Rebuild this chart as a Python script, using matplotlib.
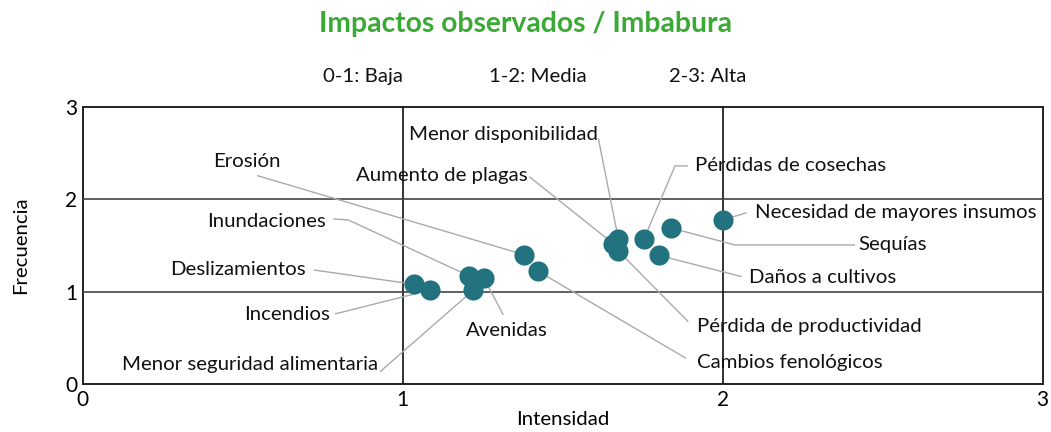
import matplotlib
matplotlib.use("Agg")
import matplotlib.pyplot as plt

plt.rcParams['font.family'] = ['Lato', 'DejaVu Sans']

labels = ["Deslizamientos", "Incendios", "Inundaciones", "Avenidas",
          "Menor seguridad alimentaria", "Erosión", "Cambios fenológicos",
          "Aumento de plagas", "Menor disponibilidad", "Pérdida de productividad",
          "Pérdidas de cosechas", "Sequías", "Daños a cultivos",
          "Necesidad de mayores insumos"]
intensidad = [1.036, 1.085, 1.208, 1.254, 1.221, 1.38, 1.422,
              1.658, 1.674, 1.674, 1.754, 1.838, 1.80, 2.0]
frecuencia = [1.08, 1.018, 1.17, 1.145, 1.018, 1.40, 1.224,
              1.52, 1.568, 1.44, 1.571, 1.69, 1.394, 1.777]

# label placement (data coords) and alignment
label_pos = {
    "Deslizamientos": (0.698, 1.235, 'right'),
    "Incendios": (0.773, 0.748, 'right'),
    "Inundaciones": (0.760, 1.755, 'right'),
    "Avenidas": (1.326, 0.585, 'center'),
    "Menor seguridad alimentaria": (0.923, 0.217, 'right'),
    "Erosión": (0.513, 2.405, 'center'),
    "Cambios fenológicos": (1.92, 0.238, 'left'),
    "Aumento de plagas": (1.391, 2.253, 'right'),
    "Menor disponibilidad": (1.611, 2.698, 'right'),
    "Pérdida de productividad": (1.92, 0.628, 'left'),
    "Pérdidas de cosechas": (1.913, 2.362, 'left'),
    "Sequías": (2.423, 1.506, 'left'),
    "Daños a cultivos": (2.082, 1.159, 'left'),
    "Necesidad de mayores insumos": (2.101, 1.863, 'left'),
}
# leader-line path from label side (start, optional elbow) toward the point
leader = {
    "Deslizamientos": [(0.7228, 1.235)],
    "Incendios": [(0.7884, 0.759)],
    "Inundaciones": [(0.7831, 1.788), (0.8300, 1.777)],
    "Avenidas": [(1.3144, 0.748)],
    "Menor seguridad alimentaria": [(0.9291, 0.133)],
    "Erosión": [(0.5447, 2.258)],
    "Cambios fenológicos": [(1.8853, 0.279)],
    "Aumento de plagas": [(1.3956, 2.246)],
    "Menor disponibilidad": [(1.6113, 2.662)],
    "Pérdida de productividad": [(1.8925, 0.675)],
    "Pérdidas de cosechas": [(1.8916, 2.362), (1.8509, 2.362)],
    "Sequías": [(2.4134, 1.506), (2.0384, 1.506)],
    "Daños a cultivos": [(2.0594, 1.163)],
    "Necesidad de mayores insumos": [(2.0749, 1.855)],
}

ticks = [0, 1, 2, 3]
legend_items = ["0-1: Baja", "1-2: Media", "2-3: Alta"]

fig = plt.figure(figsize=(10.51, 4.32), dpi=100)
ax = fig.add_axes([0.0787, 0.111, 0.9134, 0.6413])
ax.set_xlim(0, 3)
ax.set_ylim(0, 3)
ax.set_xticks(ticks)
ax.set_yticks(ticks)
ax.tick_params(length=0, labelsize=15, pad=4)
for s in ax.spines.values():
    s.set_color('#222222')
    s.set_linewidth(1.4)
for v in [1, 2]:
    ax.axvline(v, color='#111111', lw=1.2, zorder=3)
    ax.axhline(v, color='#444444', lw=1.2, zorder=3)

ax.scatter(intensidad, frecuencia, s=210, color='#22727f', zorder=4, linewidths=0)

for name, x, y in zip(labels, intensidad, frecuencia):
    tx, ty, ha = label_pos[name]
    ax.text(tx, ty, name, ha=ha, va='center', fontsize=14.7, color='#111111', zorder=2)
    pts = leader[name] + [(x, y)]
    ax.plot([p[0] for p in pts], [p[1] for p in pts], color='#aaaaaa', lw=1.0,
            zorder=3.5, solid_capstyle='butt')

ax.set_xlabel("Intensidad", fontsize=14.7, labelpad=1)
ax.set_ylabel("Frecuencia", fontsize=14.7, labelpad=26)

fig.text(0.5, 0.944, "Impactos observados / Imbabura", ha='center', va='center',
         fontsize=20.3, fontweight='bold', color='#3aaa35')
for txt, xp in zip(legend_items, [0.345, 0.512, 0.673]):
    fig.text(xp, 0.824, txt, ha='center', va='center', fontsize=14.7, color='#111111')

fig.savefig("out.png", dpi=100)
